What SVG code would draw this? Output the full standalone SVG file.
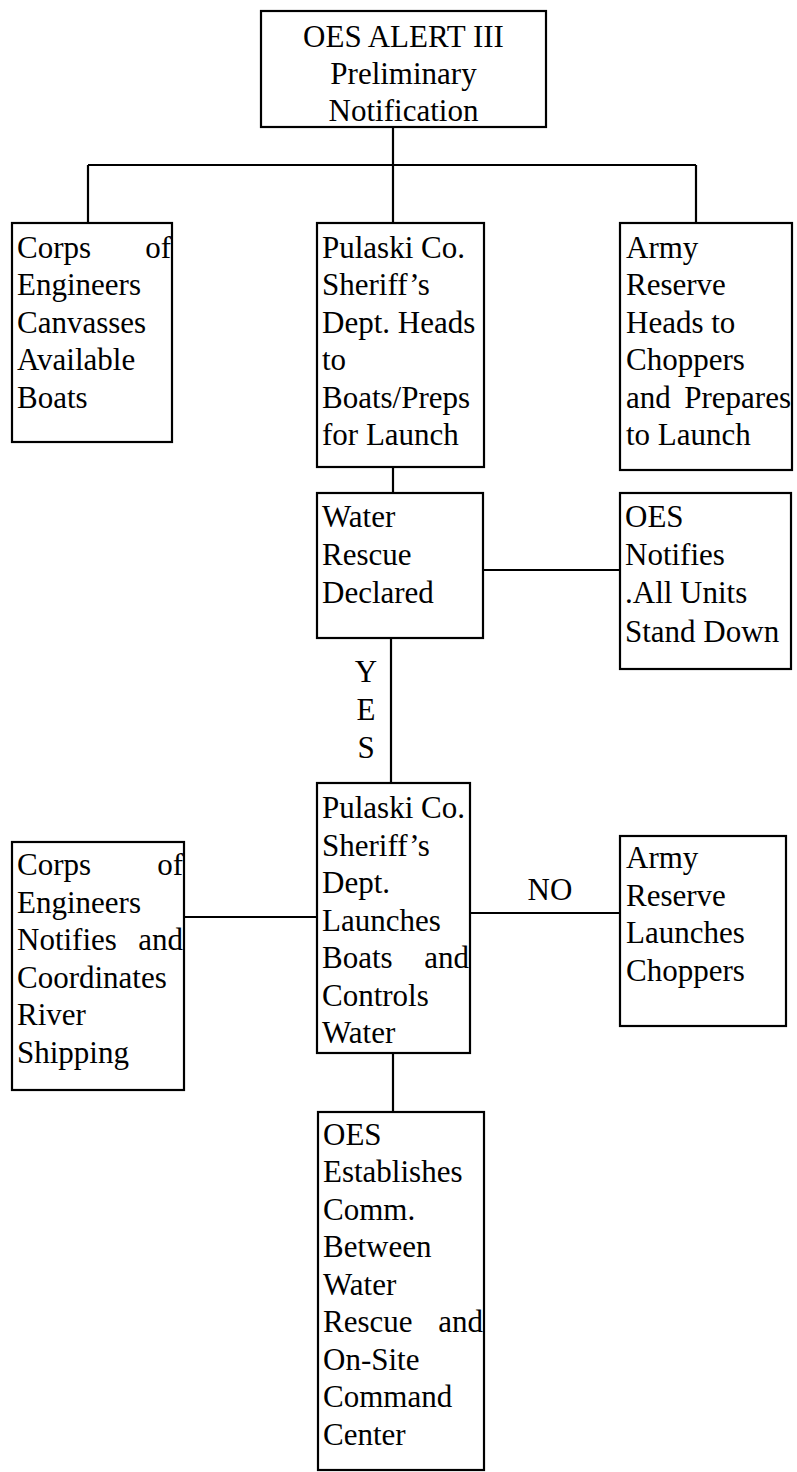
<svg xmlns="http://www.w3.org/2000/svg" width="797" height="1472" viewBox="0 0 797 1472">
<style>
.box{fill:#fff;stroke:#000;stroke-width:2.2}
.ln{stroke:#000;stroke-width:2.2;fill:none}
text{font-family:"Liberation Serif","Times New Roman",serif;font-size:31px;fill:#000}
.c{text-anchor:middle}
.e{text-anchor:end}
</style>
<rect width="797" height="1472" fill="#fff"/>
<g id="connectors">
<path class="ln" d="M393 127V165M88 165H696M88 165V223M393 165V223M696 165V223"/>
<path class="ln" d="M393 467V493"/>
<path class="ln" d="M483 570H620"/>
<path class="ln" d="M391 638V783"/>
<path class="ln" d="M184 917H317"/>
<path class="ln" d="M470 913H620"/>
<path class="ln" d="M393 1053V1112"/>
</g>
<g id="labels">
<text class="c" x="366" y="682">Y</text>
<text class="c" x="366" y="720">E</text>
<text class="c" x="366" y="758">S</text>
<text class="c" x="550" y="900">NO</text>
</g>
<g id="n-alert">
<rect class="box" x="261" y="11" width="285" height="116"/>
<text class="c" x="403.5" y="47">OES ALERT III</text>
<text class="c" x="403.5" y="84">Preliminary</text>
<text class="c" x="403.5" y="121">Notification</text>
</g>
<g id="n-corps1">
<rect class="box" x="12" y="223" width="160" height="219"/>
<text x="17" y="258">Corps</text><text class="e" x="171" y="258">of</text>
<text x="17" y="295">Engineers</text>
<text x="17" y="333">Canvasses</text>
<text x="17" y="370">Available</text>
<text x="17" y="408">Boats</text>
</g>
<g id="n-sheriff1">
<rect class="box" x="317" y="223" width="167" height="244"/>
<text x="322" y="258">Pulaski Co.</text>
<text x="322" y="295">Sheriff’s</text>
<text x="322" y="333">Dept. Heads</text>
<text x="322" y="370">to</text>
<text x="322" y="408">Boats/Preps</text>
<text x="322" y="445">for Launch</text>
</g>
<g id="n-army1">
<rect class="box" x="620" y="223" width="172" height="247"/>
<text x="626" y="258">Army</text>
<text x="626" y="295">Reserve</text>
<text x="626" y="333">Heads to</text>
<text x="626" y="370">Choppers</text>
<text x="626" y="408">and</text><text class="e" x="791" y="408">Prepares</text>
<text x="626" y="445">to Launch</text>
</g>
<g id="n-water">
<rect class="box" x="317" y="493" width="166" height="145"/>
<text x="322" y="527">Water</text>
<text x="322" y="565">Rescue</text>
<text x="322" y="603">Declared</text>
</g>
<g id="n-standdown">
<rect class="box" x="620" y="493" width="171" height="176"/>
<text x="625" y="527">OES</text>
<text x="625" y="565">Notifies</text>
<text x="625" y="603">.All Units</text>
<text x="625" y="642">Stand Down</text>
</g>
<g id="n-sheriff2">
<rect class="box" x="317" y="783" width="153" height="270"/>
<text x="322" y="818">Pulaski Co.</text>
<text x="322" y="856">Sheriff’s</text>
<text x="322" y="893">Dept.</text>
<text x="322" y="931">Launches</text>
<text x="322" y="968">Boats</text><text class="e" x="469" y="968">and</text>
<text x="322" y="1006">Controls</text>
<text x="322" y="1043">Water</text>
</g>
<g id="n-corps2">
<rect class="box" x="12" y="842" width="172" height="248"/>
<text x="17" y="875">Corps</text><text class="e" x="183" y="875">of</text>
<text x="17" y="913">Engineers</text>
<text x="17" y="950">Notifies</text><text class="e" x="183" y="950">and</text>
<text x="17" y="988">Coordinates</text>
<text x="17" y="1025">River</text>
<text x="17" y="1063">Shipping</text>
</g>
<g id="n-army2">
<rect class="box" x="620" y="836" width="166" height="190"/>
<text x="626" y="868">Army</text>
<text x="626" y="906">Reserve</text>
<text x="626" y="943">Launches</text>
<text x="626" y="981">Choppers</text>
</g>
<g id="n-comm">
<rect class="box" x="318" y="1112" width="166" height="358"/>
<text x="323" y="1145">OES</text>
<text x="323" y="1182">Establishes</text>
<text x="323" y="1220">Comm.</text>
<text x="323" y="1257">Between</text>
<text x="323" y="1295">Water</text>
<text x="323" y="1332">Rescue</text><text class="e" x="483" y="1332">and</text>
<text x="323" y="1370">On-Site</text>
<text x="323" y="1407">Command</text>
<text x="323" y="1445">Center</text>
</g>
</svg>
